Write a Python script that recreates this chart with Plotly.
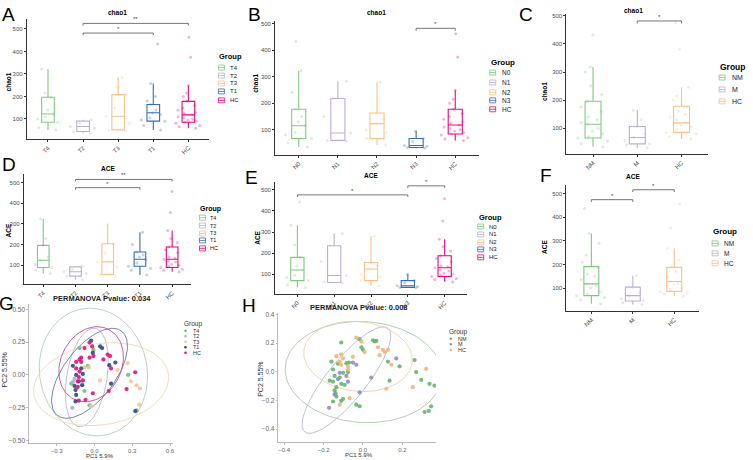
import numpy as np
import plotly.graph_objects as go

W, H = 753, 460
FONT = "Liberation Sans, Arial, sans-serif"

# ---------------- data ----------------
t_groups = ['T4', 'T2', 'T3', 'T1', 'HC']
n_groups = ['N0', 'N1', 'N2', 'N3', 'HC']
m_groups = ['NM', 'M', 'HC']

accent5 = ['#7FC97F', '#BEAED4', '#FDC086', '#386CB0', '#F0027F']
accent3 = ['#7FC97F', '#BEAED4', '#FDC086']

# A: chao1 by T stage (whisker low, q1, median, q3, whisker high)
a_low = [51, 36, 48, 51, 58]
a_q1 = [85, 44, 51, 90, 85]
a_med = [122, 66, 112, 127, 118]
a_q3 = [196, 90, 208, 164, 178]
a_high = [322, 96, 285, 258, 248]
a_pts = [[51, 62, 85, 100, 122, 140, 196, 215, 322, 110],
         [36, 44, 58, 66, 80, 96],
         [48, 51, 80, 112, 150, 208, 285, 240],
         [51, 70, 90, 105, 120, 127, 140, 164, 200, 258, 433, 95, 180],
         [58, 70, 85, 90, 100, 110, 118, 125, 140, 160, 178, 200, 248, 374, 463,
          80, 95, 130, 150, 215, 65, 105]]
a_sig_from = [1, 1]
a_sig_to = [4, 3]
a_sig_y = [525, 482]
a_sig_lab = ['**', '*']

# B: chao1 by N stage
b_low = [35, 57, 43, 30, 60]
b_q1 = [67, 60, 67, 33, 84]
b_med = [115, 88, 123, 41, 118]
b_q3 = [177, 218, 163, 67, 177]
b_high = [322, 283, 279, 94, 249]
b_pts = [[35, 50, 67, 90, 115, 130, 177, 240, 322, 432, 80, 150],
         [57, 60, 88, 150, 218, 283],
         [43, 67, 100, 123, 140, 163, 279, 90],
         [30, 33, 38, 41, 55, 67, 94],
         [60, 70, 84, 90, 100, 110, 118, 125, 140, 160, 177, 200, 249, 374, 462,
          80, 95, 130, 150, 215, 65, 105]]
b_sig_from = [3]
b_sig_to = [4]
b_sig_y = [482]
b_sig_lab = ['*']

# C: chao1 by metastasis
c_low = [34, 29, 61]
c_q1 = [65, 44, 85]
c_med = [114, 67, 119]
c_q3 = [196, 106, 178]
c_high = [318, 164, 246]
c_pts = [[34, 45, 65, 80, 100, 114, 130, 160, 196, 250, 318, 432, 55, 90, 120, 140, 175, 220, 70, 300],
         [29, 44, 55, 67, 80, 106, 130, 164, 40],
         [61, 70, 85, 95, 105, 119, 130, 150, 178, 200, 246, 380, 476, 80, 140, 160, 110, 215]]
c_sig_from = [1]
c_sig_to = [2]
c_sig_y = [482]
c_sig_lab = ['*']

# D: ACE by T stage
d_low = [60, 31, 52, 52, 68]
d_q1 = [89, 47, 55, 95, 89]
d_med = [124, 68, 116, 129, 129]
d_q3 = [196, 92, 204, 164, 188]
d_high = [324, 95, 297, 260, 268]
d_pts = [[60, 89, 105, 124, 140, 196, 230, 324, 75],
         [31, 47, 60, 68, 80, 95],
         [52, 55, 90, 116, 160, 204, 297],
         [52, 75, 95, 110, 129, 140, 164, 200, 260, 85, 150],
         [68, 80, 89, 100, 115, 129, 140, 160, 188, 210, 268, 356, 457, 95, 120, 135, 175, 75, 105, 230]]
d_sig_from = [1, 1]
d_sig_to = [4, 3]
d_sig_y = [516, 476]
d_sig_lab = ['**', '*']

# E: ACE by N stage
e_low = [37, 61, 45, 36, 65]
e_q1 = [70, 61, 70, 37, 89]
e_med = [120, 94, 125, 45, 131]
e_q3 = [180, 235, 156, 70, 188]
e_high = [332, 293, 280, 100, 266]
e_pts = [[37, 50, 70, 95, 120, 140, 180, 240, 332, 442, 85],
         [61, 63, 94, 160, 235, 293],
         [45, 70, 100, 125, 140, 156, 280, 88],
         [36, 37, 42, 45, 58, 70, 100],
         [65, 80, 89, 100, 115, 131, 140, 160, 188, 210, 266, 352, 458, 95, 120, 135, 175, 75, 105, 230]]
e_sig_from = [0, 3]
e_sig_to = [3, 4]
e_sig_y = [476, 519]
e_sig_lab = ['*', '*']

# F: ACE by metastasis
f_low = [34, 30, 65]
f_q1 = [68, 45, 86]
f_med = [118, 68, 128]
f_q3 = [191, 104, 188]
f_high = [332, 152, 268]
f_pts = [[34, 50, 68, 85, 100, 118, 135, 160, 191, 240, 332, 437, 60, 110, 150, 210, 75, 290],
         [30, 45, 55, 68, 80, 104, 152, 38],
         [65, 80, 86, 100, 115, 128, 145, 188, 268, 356, 457, 95, 120, 170, 220, 75]]
f_sig_from = [0, 1]
f_sig_to = [1, 2]
f_sig_y = [475, 517]
f_sig_lab = ['*', '*']

# G: PCoA by T stage
g_colors = ['#6cbf7c', '#b8a9d2', '#f6c48f', '#2f4a80', '#e0137a']
g_ell_colors = ['#b3cdbb', '#c2b2d6', '#eed9b8', '#6677a8', '#c8479a']
g_T4_x = [-0.118, -0.053, -0.184, -0.079, -0.039, 0.268, 0.334, -0.008]
g_T4_y = [0.204, 0.069, -0.067, -0.123, -0.232, 0.000, -0.271, 0.190]
g_T2_x = [-0.171, -0.139, -0.176, -0.097, -0.158]
g_T2_y = [-0.054, -0.099, -0.251, -0.071, -0.030]
g_T3_x = [-0.079, 0.045, 0.263, 0.289, 0.334, 0.355, 0.184, -0.026, -0.045, 0.361]
g_T3_y = [0.057, -0.042, 0.089, -0.049, -0.079, -0.227, 0.037, -0.239, 0.057, -0.103]
g_T1_x = [-0.026, 0.045, 0.061, -0.013, 0.118, 0.166, -0.171, -0.105, -0.145, -0.092,
          -0.124, -0.097, -0.158, -0.150, -0.145, -0.150, 0.132, 0.324]
g_T1_y = [0.261, 0.217, 0.204, 0.167, 0.074, 0.094, 0.069, 0.049, 0.000, 0.007,
          -0.049, -0.079, -0.084, -0.116, -0.153, -0.202, -0.067, -0.276]
g_HC_x = [-0.039, -0.079, -0.018, -0.105, -0.118, -0.105, -0.145, -0.039, -0.008, 0.105,
          0.124, 0.071, -0.145, -0.118, -0.124, -0.132, -0.092, -0.132, -0.013, 0.113,
          -0.124, -0.071, 0.132, 0.324, 0.255]
g_HC_y = [0.246, 0.204, 0.217, 0.131, 0.118, 0.099, 0.099, 0.131, 0.143, 0.155,
          0.143, 0.118, 0.049, 0.025, -0.017, -0.049, -0.042, -0.091, -0.140, -0.123,
          -0.197, -0.190, 0.049, 0.020, -0.108]
# ellipse centre, semi-axes and tilt (deg) per group: T4, T2, T3, T1, HC
g_ell_cx = [-0.008, -0.06, 0.053, -0.039, -0.026]
g_ell_cy = [0.022, -0.02, -0.071, 0.012, 0.081]
g_ell_a = [0.49, 0.38, 0.54, 0.41, 0.30]
g_ell_b = [0.426, 0.16, 0.31, 0.20, 0.24]
g_ell_deg = [104, 80, 8, 51, 60]

# H: PCoA by metastasis
h_colors = ['#66b56c', '#8a8ec9', '#f5b37a']
h_ell_colors = ['#adc7ad', '#b9b9d6', '#f2cfac']
h_NM_x = [-0.110, -0.017, 0.051, 0.059, 0.068, -0.008, 0.000, -0.160, -0.127, -0.084,
          -0.071, -0.152, -0.101, -0.076, -0.144, -0.118, -0.169, -0.152, -0.110, -0.093,
          -0.135, -0.144, -0.139, -0.135, -0.101, -0.110, -0.152, -0.034, -0.017, 0.127,
          0.186, 0.262, 0.270, 0.296, 0.338, 0.363, 0.135, 0.346, 0.313, 0.334]
h_NM_y = [0.204, 0.227, 0.220, 0.211, 0.216, 0.171, 0.153, 0.071, 0.056, 0.060,
          0.064, 0.016, -0.007, -0.002, -0.029, -0.040, -0.062, -0.069, -0.084, -0.091,
          -0.107, -0.129, -0.151, -0.173, -0.189, -0.202, -0.207, -0.229, -0.240, 0.071,
          0.038, 0.082, -0.002, -0.056, -0.084, -0.096, -0.062, -0.240, -0.280, -0.273]
h_M_x = [-0.051, -0.034, -0.118, -0.127, -0.084, -0.076, 0.169, 0.042, -0.017, -0.144, -0.172]
h_M_y = [0.064, 0.049, -0.007, -0.051, -0.029, -0.069, 0.093, -0.040, -0.144, -0.158, -0.251]
h_HC_x = [-0.034, -0.008, -0.051, -0.110, -0.101, -0.118, -0.110, -0.135, 0.076, 0.101,
          0.110, 0.127, 0.008, 0.084, -0.076, -0.076, 0.144, 0.321, 0.253, 0.118,
          -0.068, -0.118]
h_HC_y = [0.238, 0.211, 0.104, 0.122, 0.093, 0.071, 0.049, 0.109, 0.171, 0.153,
          0.138, 0.153, 0.138, 0.116, 0.038, 0.016, 0.049, 0.020, -0.107, -0.118,
          -0.184, -0.229]
h_ell_cx = [0.003, -0.084, -0.025]
h_ell_cy = [-0.002, -0.058, 0.107]
h_ell_a = [0.40, 0.42, 0.28]
h_ell_b = [0.35, 0.11, 0.24]
h_ell_deg = [-12, 61, -20]


# ---------------- helpers ----------------
def px(x):
    return x / W


def py(y):
    return 1 - y / H


annotations = []
shapes = []


def ann(x, y, text, size=7, bold=False, angle=0, xanchor='center', color='#000'):
    if bold:
        text = '<b>' + text + '</b>'
    annotations.append(dict(x=px(x), y=py(y), xref='paper', yref='paper', text=text,
                            showarrow=False, textangle=angle, xanchor=xanchor, yanchor='middle',
                            font=dict(family=FONT, size=size, color=color)))


def legend_boxes(x_icon, x_text, y_title, ys, groups, colors, size=6):
    ann(x_icon - 4, y_title, 'Group', size=size + 1.5, bold=True, xanchor='left')
    for g, c, y in zip(groups, colors, ys):
        shapes.append(dict(type='rect', xref='paper', yref='paper',
                           x0=px(x_icon - 3), x1=px(x_icon + 3), y0=py(y + 2.5), y1=py(y - 2.5),
                           line=dict(color=c, width=0.8), fillcolor='white'))
        shapes.append(dict(type='line', xref='paper', yref='paper',
                           x0=px(x_icon - 3), x1=px(x_icon + 3), y0=py(y), y1=py(y),
                           line=dict(color=c, width=0.8)))
        ann(x_text, y, g, size=size, xanchor='left', color='#222')


def legend_dots(x_icon, x_text, y_title, ys, groups, colors, size=7):
    ann(x_icon - 4, y_title, 'Group', size=size + 1, xanchor='left', color='#333')
    for g, c, y in zip(groups, colors, ys):
        shapes.append(dict(type='circle', xref='paper', yref='paper',
                           x0=px(x_icon - 1.3), x1=px(x_icon + 1.3), y0=py(y + 1.3), y1=py(y - 1.3),
                           line=dict(width=0), fillcolor=c))
        ann(x_text, y, g, size=size, xanchor='left', color='#333')


fig = go.Figure()
layout_axes = {}


def axis_names(k):
    if k == 1:
        return 'x', 'y', 'xaxis', 'yaxis'
    return f'x{k}', f'y{k}', f'xaxis{k}', f'yaxis{k}'


def box_panel(k, groups, colors, low, q1, med, q3, high, pts,
              sig_from, sig_to, sig_y, sig_lab, xdom, ydom, yr):
    xr, yref, xname, yname = axis_names(k)
    for i, g in enumerate(groups):
        fig.add_trace(go.Box(x=[i] * len(pts[i]), y=pts[i], boxpoints='all', jitter=1, pointpos=0,
                             width=0.85, line=dict(width=0), fillcolor='rgba(0,0,0,0)',
                             marker=dict(color=colors[i], size=3, opacity=0.3),
                             xaxis=xr, yaxis=yref, showlegend=False, hoverinfo='skip'))
        fig.add_trace(go.Box(x=[i], q1=[q1[i]], median=[med[i]], q3=[q3[i]],
                             lowerfence=[low[i]], upperfence=[high[i]], width=0.36,
                             line=dict(color=colors[i], width=1.1), fillcolor='rgba(255,255,255,0)',
                             boxpoints=False, whiskerwidth=0,
                             xaxis=xr, yaxis=yref, showlegend=False, name=g))
    tip = 0.018 * (yr[1] - yr[0])
    for a, b, y, lab in zip(sig_from, sig_to, sig_y, sig_lab):
        fig.add_trace(go.Scatter(x=[a, a, b, b], y=[y - tip, y, y, y - tip], mode='lines',
                                 line=dict(color='#666', width=0.9), xaxis=xr, yaxis=yref,
                                 showlegend=False, hoverinfo='skip'))
        annotations.append(dict(x=(a + b) / 2, y=y, xref=xr, yref=yref, text=lab, showarrow=False,
                                yanchor='bottom', yshift=-1, font=dict(family=FONT, size=6, color='#444')))
    n = len(groups)
    layout_axes[xname] = dict(domain=[px(xdom[0]), px(xdom[1])], anchor=yref, range=[-0.6, n - 0.4],
                              tickvals=list(range(n)), ticktext=groups, tickangle=-45,
                              showline=True, linecolor='#333', linewidth=1.2, ticks='outside',
                              ticklen=2, tickcolor='#333', showgrid=False, zeroline=False,
                              tickfont=dict(family=FONT, size=6, color='#4d4d4d'))
    layout_axes[yname] = dict(domain=[py(ydom[1]), py(ydom[0])], anchor=xr, range=yr,
                              tickvals=[100, 200, 300, 400, 500],
                              showline=True, linecolor='#333', linewidth=1.2, ticks='outside',
                              ticklen=2, tickcolor='#333', showgrid=False, zeroline=False,
                              tickfont=dict(family=FONT, size=6, color='#4d4d4d'))


def ellipse(cx, cy, a, b, deg):
    t = np.linspace(0, 2 * np.pi, 120)
    th = np.deg2rad(deg)
    x = cx + a * np.cos(t) * np.cos(th) - b * np.sin(t) * np.sin(th)
    y = cy + a * np.cos(t) * np.sin(th) + b * np.sin(t) * np.cos(th)
    return x, y


def pcoa_panel(k, xs, ys, colors, ell, ell_colors, xdom, ydom, xrng, yrng, xt, xtt, yt, ytt):
    xr, yref, xname, yname = axis_names(k)
    for i, (cx, cy, a, b, deg) in enumerate(zip(*ell)):
        ex, ey = ellipse(cx, cy, a, b, deg)
        fig.add_trace(go.Scatter(x=ex, y=ey, mode='lines', line=dict(color=ell_colors[i], width=0.9),
                                 xaxis=xr, yaxis=yref, showlegend=False, hoverinfo='skip'))
    for i in range(len(xs)):
        fig.add_trace(go.Scatter(x=xs[i], y=ys[i], mode='markers',
                                 marker=dict(color=colors[i], size=4.2, opacity=0.9),
                                 xaxis=xr, yaxis=yref, showlegend=False))
    layout_axes[xname] = dict(domain=[px(xdom[0]), px(xdom[1])], anchor=yref, range=xrng,
                              tickvals=xt, ticktext=xtt, showline=True, linecolor='#bbb', linewidth=1,
                              ticks='outside', ticklen=1.5, tickcolor='#bbb', showgrid=False,
                              zeroline=False, tickfont=dict(family=FONT, size=6, color='#666'))
    layout_axes[yname] = dict(domain=[py(ydom[1]), py(ydom[0])], anchor=xr, range=yrng,
                              tickvals=yt, ticktext=ytt, showline=True, linecolor='#bbb', linewidth=1,
                              ticks='outside', ticklen=1.5, tickcolor='#bbb', showgrid=False,
                              zeroline=False, tickfont=dict(family=FONT, size=6.5, color='#666'))


# ---------------- panels ----------------
box_panel(1, t_groups, accent5, a_low, a_q1, a_med, a_q3, a_high, a_pts,
          a_sig_from, a_sig_to, a_sig_y, a_sig_lab, (27, 210), (17, 138), [10, 545])
box_panel(2, n_groups, accent5, b_low, b_q1, b_med, b_q3, b_high, b_pts,
          b_sig_from, b_sig_to, b_sig_y, b_sig_lab, (276, 480), (19, 154), [5, 510])
box_panel(3, m_groups, accent3, c_low, c_q1, c_med, c_q3, c_high, c_pts,
          c_sig_from, c_sig_to, c_sig_y, c_sig_lab, (568, 710), (12, 153), [8, 507])
box_panel(4, t_groups, accent5, d_low, d_q1, d_med, d_q3, d_high, d_pts,
          d_sig_from, d_sig_to, d_sig_y, d_sig_lab, (24, 192), (173, 284), [8, 543])
box_panel(5, n_groups, accent5, e_low, e_q1, e_med, e_q3, e_high, e_pts,
          e_sig_from, e_sig_to, e_sig_y, e_sig_lab, (276, 468), (181, 294), [6, 538])
box_panel(6, m_groups, accent3, f_low, f_q1, f_med, f_q3, f_high, f_pts,
          f_sig_from, f_sig_to, f_sig_y, f_sig_lab, (568, 701), (184, 311), [3, 538])

pcoa_panel(7, [g_T4_x, g_T2_x, g_T3_x, g_T1_x, g_HC_x], [g_T4_y, g_T2_y, g_T3_y, g_T1_y, g_HC_y],
           g_colors, (g_ell_cx, g_ell_cy, g_ell_a, g_ell_b, g_ell_deg), g_ell_colors,
           (29, 173), (304, 444), [-0.52, 0.62], [-0.52, 0.54],
           [-0.3, 0, 0.3, 0.6], ['\u22120.3', '0.0', '0.3', '0.6'],
           [-0.5, -0.25, 0, 0.25, 0.5], ['\u22120.50', '\u22120.25', '0.00', '0.25', '0.50'])
pcoa_panel(8, [h_NM_x, h_M_x, h_HC_x], [h_NM_y, h_M_y, h_HC_y],
           h_colors, (h_ell_cx, h_ell_cy, h_ell_a, h_ell_b, h_ell_deg), h_ell_colors,
           (279, 437), (313, 443), [-0.43, 0.37], [-0.49, 0.41],
           [-0.4, -0.2, 0, 0.2], ['\u22120.4', '\u22120.2', '0.0', '0.2'],
           [-0.4, -0.2, 0, 0.2, 0.4], ['\u22120.4', '\u22120.2', '0.0', '0.2', '0.4'])

# panel letters
for letter, x, y in [('A', 9, 13), ('B', 255, 13), ('C', 527, 13), ('D', 9, 164),
                     ('E', 252, 177), ('F', 547, 175), ('G', 7, 303), ('H', 250, 305)]:
    ann(x, y, letter, size=19)

# titles and axis labels
for text, x, y in [('chao1', 118, 11), ('chao1', 378, 11), ('chao1', 635, 9),
                   ('ACE', 108, 168), ('ACE', 372, 175), ('ACE', 635, 176)]:
    ann(x, y, text, size=6.5, bold=True)
for text, x, y in [('chao1', 9, 80), ('chao1', 256, 82), ('chao1', 546, 90),
                   ('ACE', 9, 230), ('ACE', 258, 237), ('ACE', 546, 247)]:
    ann(x, y, text, size=6.5, bold=True, angle=-90)
ann(102, 298, 'PERMANOVA Pvalue: 0.034', size=7.5, bold=True, color='#222')
ann(360, 308, 'PERMANOVA Pvalue: 0.008', size=7.5, bold=True, color='#222')
ann(5, 370, 'PC2 5.55%', size=7, angle=-90, color='#333')
ann(261, 380, 'PC2 5.55%', size=7, angle=-90, color='#333')
ann(100, 457, 'PC1 5.9%', size=6, color='#333')
ann(360, 456, 'PC1 5.9%', size=6, color='#333')

# legends
legend_boxes(222, 229, 55, [66, 74, 82, 90, 99], t_groups, accent5)
legend_boxes(494, 501, 61, [71, 81, 91, 99, 108], n_groups, accent5, size=6.5)
legend_boxes(724, 732, 65, [76, 88, 100], m_groups, accent3, size=7)
legend_boxes(203, 209, 208, [217, 225, 233, 240, 248], t_groups, accent5, size=5.5)
legend_boxes(482, 488, 217, [226, 234, 242, 249, 257], n_groups, accent5, size=6)
legend_boxes(717, 724, 231, [243, 253, 263], m_groups, accent3, size=6.5)
legend_dots(186, 192, 324, [331, 336.5, 342, 347.5, 353], t_groups, g_colors, size=5.5)
legend_dots(452, 457, 332, [339, 344.5, 350], m_groups, h_colors, size=5.5)

fig.update_layout(width=W, height=H, autosize=False, margin=dict(l=0, r=0, t=0, b=0),
                  paper_bgcolor='white', plot_bgcolor='white', boxmode='overlay',
                  showlegend=False, annotations=annotations, shapes=shapes, **layout_axes)
fig.write_html("out.html", config={'displayModeBar': False},
               post_script="document.body.style.margin='0';document.body.style.overflow='hidden';")
